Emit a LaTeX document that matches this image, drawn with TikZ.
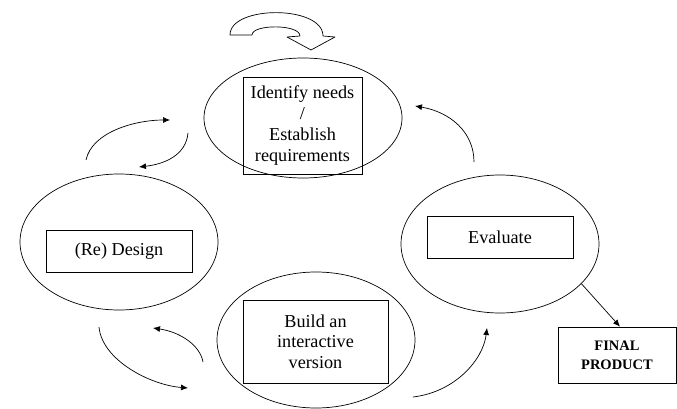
\documentclass[tikz,border=0pt]{standalone}
\usepackage{fontspec}
\setmainfont{Liberation Serif}
\usetikzlibrary{shapes.geometric,arrows.meta}
\begin{document}
\begin{tikzpicture}[x=1pt,y=-1pt,
  stage/.style={draw,ellipse,line width=0.7pt,inner sep=0pt},
  label/.style={draw,line width=0.7pt,inner sep=0pt,align=center,
    font=\fontsize{18.2}{20.7}\selectfont},
  flow/.style={line width=0.7pt,-{Latex[length=7pt,width=6pt]}},
  ]
\useasboundingbox (0,0) rectangle (677,409);

% the four stages of the cycle
\node[stage,minimum width=198,minimum height=120] (needs) at (303,118) {};
\node[stage,minimum width=198,minimum height=136] (design) at (119,242) {};
\node[stage,minimum width=198,minimum height=138] (eval) at (500,244) {};
\node[stage,minimum width=198,minimum height=136] (build) at (316,340) {};

% boxed labels inside the stages
\node[label,minimum width=119,minimum height=97] (needsbox) at (302.5,125.5)
  {Identify needs\\/\\Establish\\requirements};
\node[label,minimum width=146,minimum height=42] (designbox) at (119,251) {(Re) Design};
\node[label,minimum width=146,minimum height=42] (evalbox) at (500,237) {Evaluate};
\node[label,minimum width=145,minimum height=83] (buildbox) at (315.5,341.5)
  {Build an\\interactive\\version};

% outcome of the process
\node[draw,line width=0.7pt,inner sep=0pt,align=center,
  minimum width=118,minimum height=56,
  font=\fontsize{14.5}{19}\selectfont\bfseries] (final) at (617,355) {FINAL\\PRODUCT};
\draw[flow] (eval.-26) -- ([xshift=3]final.north);

% end points of the free curved arrows
\coordinate (a1s) at (86,160);  \coordinate (a1e) at (170,120);
\coordinate (a2s) at (188,133); \coordinate (a2e) at (139,167);
\coordinate (a3s) at (99,327);  \coordinate (a3e) at (188,388);
\coordinate (a4s) at (203,362); \coordinate (a4e) at (153,328);
\coordinate (a5s) at (413,397); \coordinate (a5e) at (487,328);
\coordinate (a6s) at (474,162); \coordinate (a6e) at (415,106);

\draw[flow] (a1s) .. controls (92,132) and (135,120) .. (a1e);
\draw[flow] (a2s) .. controls (186,155) and (165,164) .. (a2e);
\draw[flow] (a3s) .. controls (102,360) and (150,385) .. (a3e);
\draw[flow] (a4s) .. controls (200,345) and (180,332) .. (a4e);
\draw[flow] (a5s) .. controls (455,392) and (483,360) .. (a5e);
\draw[flow] (a6s) .. controls (474,132) and (450,112) .. (a6e);

% block U-turn arrow above the cycle
\draw[line width=0.7pt,line join=round,fill=white]
  (230,35) .. controls (230,5) and (323,5) .. (323,36)
  -- (335,37) -- (311,50) -- (287,37) -- (300,36)
  .. controls (300,24) and (252,24) .. (252,35) -- cycle;
\end{tikzpicture}
\end{document}
